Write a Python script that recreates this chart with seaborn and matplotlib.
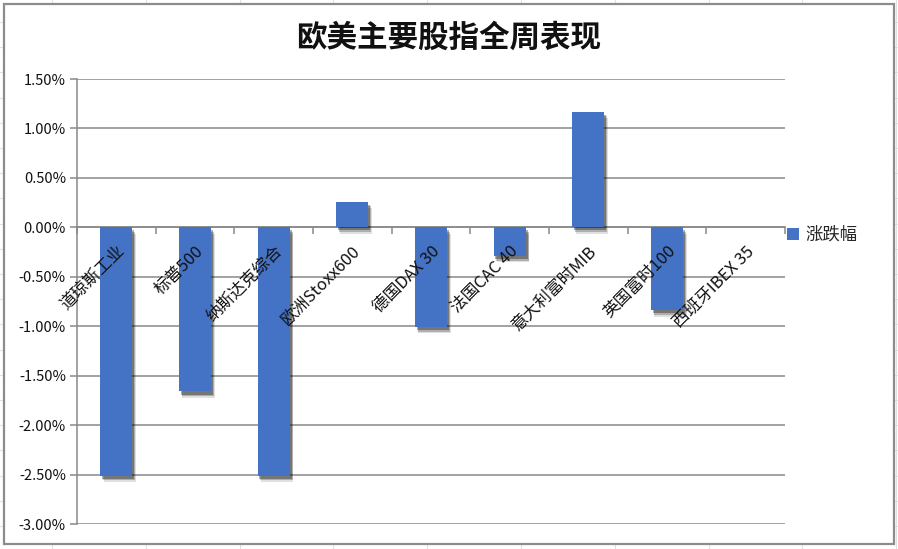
import numpy as np
import pandas as pd
import matplotlib
matplotlib.use("Agg")
import matplotlib.pyplot as plt
import matplotlib.patheffects as pe
from matplotlib.patches import Rectangle, Patch
from matplotlib.ticker import FuncFormatter, FixedLocator
import seaborn as sns

# weekly change of major US / European indices, in percent
categories = ["道琼斯工业", "标普500", "纳斯达克综合", "欧洲Stoxx600", "德国DAX 30",
              "法国CAC 40", "意大利富时MIB", "英国富时100", "西班牙IBEX 35"]
changes = [-2.51, -1.66, -2.51, 0.26, -1.01, -0.29, 1.17, -0.84, 0.00]
series_name = "涨跌幅"
title = "欧美主要股指全周表现"

sns.set_theme(style="white")
plt.rcParams["font.family"] = ["Noto Sans CJK SC", "DejaVu Sans"]
plt.rcParams["axes.unicode_minus"] = False

BLUE = "#4472C4"
GRID = "#898989"
TEXT = "#111111"

df = pd.DataFrame({"index": categories, "change": changes})

fig = plt.figure(figsize=(8.98, 5.49), dpi=100)
W, H = 898, 549

# spreadsheet cells behind the chart
for x in np.arange(52, W, 93.8):
    fig.add_artist(plt.Line2D([x / W, x / W], [0, 1], color="#e1e1e1", lw=0.8, zorder=0))
for y in np.arange(22, H, 25.2):
    fig.add_artist(plt.Line2D([0, 1], [1 - y / H, 1 - y / H], color="#e1e1e1", lw=0.8, zorder=0))

# chart area frame
fig.add_artist(Rectangle((4 / W, 1 - 544 / H), 890 / W, 540 / H, transform=fig.transFigure,
                         facecolor="white", edgecolor="#8c8c8c", lw=1.6, zorder=1))

ax = fig.add_axes([77 / W, 1 - 524 / H, 708 / W, 445 / H], zorder=2)
ax.patch.set_alpha(0)

sns.barplot(data=df, x="index", y="change", color=BLUE, width=0.41, saturation=1, ax=ax)

shadow = [pe.SimplePatchShadow(offset=(2.5, -4.5), shadow_rgbFace="black", alpha=0.12),
          pe.SimplePatchShadow(offset=(2.0, -3.3), shadow_rgbFace="black", alpha=0.22),
          pe.SimplePatchShadow(offset=(1.4, -2.2), shadow_rgbFace="black", alpha=0.32),
          pe.Normal()]
for p in ax.patches:
    p.set_edgecolor("none")
    p.set_zorder(1.5)
    p.set_path_effects(shadow)

ax.set_ylim(-3.0, 1.5)
ax.set_xlim(-0.5, len(categories) - 0.5)
ax.set_yticks(np.arange(-3.0, 1.51, 0.5))
ax.yaxis.set_major_formatter(FuncFormatter(lambda v, _: f"{v:.2f}%"))
ax.grid(axis="y", color=GRID, lw=1.1)
ax.set_axisbelow(True)

for s in ["top", "right"]:
    ax.spines[s].set_visible(False)
ax.spines["left"].set_color(GRID)
ax.spines["left"].set_linewidth(1.1)
ax.spines["bottom"].set_position(("data", 0))
ax.spines["bottom"].set_color(GRID)
ax.spines["bottom"].set_linewidth(1.1)
ax.spines["bottom"].set_zorder(1.2)

ax.tick_params(axis="y", left=True, length=5, width=1.1, color=GRID,
               labelsize=10.5, labelcolor=TEXT, pad=3)
ax.xaxis.set_minor_locator(FixedLocator(np.arange(-0.5, len(categories), 1.0)))
ax.tick_params(axis="x", which="minor", bottom=True, length=5, width=1.1, color=GRID)
ax.tick_params(axis="x", which="major", bottom=False, length=0, pad=11)
ax.set_xticks(range(len(categories)))
ax.set_xticklabels(categories, rotation=45, ha="right", rotation_mode="anchor",
                   fontsize=12, color=TEXT)
ax.xaxis.set_zorder(3)
ax.set_xlabel("")
ax.set_ylabel("")

fig.text(449 / W, 1 - 38 / H, title, ha="center", va="center", fontsize=22,
         fontweight="bold", color=TEXT)

fig.legend(handles=[Patch(facecolor=BLUE, edgecolor="none", label=series_name)],
           loc="center left", bbox_to_anchor=(787 / W, 1 - 235 / H), frameon=False,
           fontsize=12.5, handlelength=0.7, handleheight=0.7, handletextpad=0.35,
           borderpad=0, borderaxespad=0)

fig.savefig("out.png", dpi=100)
